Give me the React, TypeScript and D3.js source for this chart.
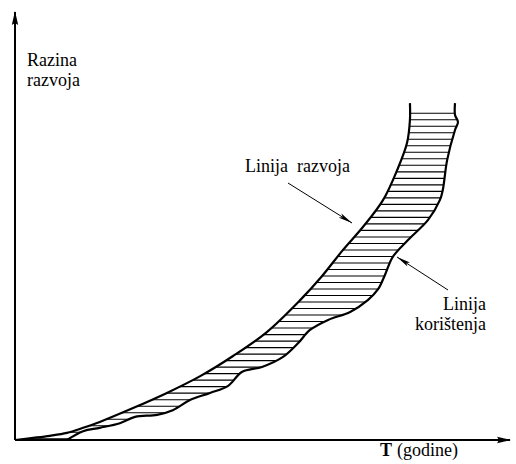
import React from "react";
import * as d3 from "d3";

// Upper boundary: "Linija razvoja" (development line) — [time, level]
const razvojX = [0, 3.7, 7.1, 10.6, 13.9, 17.3, 24.1, 31.0, 37.8, 44.5, 51.4, 58.2, 62.5, 66.9, 71.0, 75.1, 78.0, 80.0, 80.6, 80.6];
const razvojY = [0, 0.5, 1.0, 1.7, 2.9, 4.3, 7.6, 11.2, 15.2, 20.0, 25.7, 33.3, 38.8, 45.2, 50.7, 57.1, 64.3, 70.7, 76.2, 80.2];

// Lower boundary: "Linija korištenja" (utilisation line) — [time, level]
const koristX = [10.6, 13.9, 17.3, 21.4, 24.5, 29.0, 32.2, 35.7, 39.8, 43.5, 46.3, 50.4, 54.7, 57.8, 60.2, 63.9, 68.4, 72.0, 74.1, 75.5, 77.1, 80.2, 84.3, 86.7, 87.3, 88.2, 89.8, 90.4, 89.8, 89.8];
const koristY = [0, 2.1, 2.9, 4.0, 5.5, 6.0, 7.1, 9.5, 11.2, 12.9, 16.2, 17.4, 19.8, 23.1, 26.2, 28.6, 30.5, 33.3, 35.9, 39.3, 43.6, 47.6, 52.4, 57.1, 59.5, 66.7, 73.8, 75.7, 77.4, 80.2];

const yLabel = ["Razina", "razvoja"];
const xLabelBold = "T";
const xLabelRest = "(godine)";
const razvojLabel = "Linija  razvoja";
const koristLabel = ["Linija", "korištenja"];

const W = 516;
const H = 464;

export default function App() {
  const x = d3.scaleLinear().domain([0, 100]).range([15, 505]);
  const y = d3.scaleLinear().domain([0, 100]).range([440, 20]);

  const upper: [number, number][] = razvojX.map((v, i) => [x(v), y(razvojY[i])]);
  const lower: [number, number][] = koristX.map((v, i) => [x(v), y(koristY[i])]);

  const line = d3.line<[number, number]>().curve(d3.curveCatmullRom.alpha(0.5));
  const upperPath = line(upper) || "";
  const lowerPath = line(lower) || "";
  const lowerRevPath = line(lower.slice().reverse()) || "";
  const bandPath = upperPath + "L" + lowerRevPath.slice(1) + "Z";

  const topLevel = 77.8;
  const step = 1.55;
  const hatch = d3.range(topLevel, -0.5, -step);

  const axisStroke = 2;
  const font = "'Liberation Serif', 'Times New Roman', serif";
  const fs = 18;

  return (
    <svg width={W} height={H} style={{ position: "absolute", left: 0, top: 0, background: "#fff" }}>
      <defs>
        <clipPath id="band">
          <path d={bandPath} />
        </clipPath>
        <marker id="ah" viewBox="0 0 14 6" refX="14" refY="3" markerWidth="14" markerHeight="6" markerUnits="userSpaceOnUse" orient="auto">
          <path d="M0,0.6 L14,3 L0,5.4 L3,3 Z" fill="#000" />
        </marker>
        <marker id="axh" viewBox="0 0 14 8" refX="13" refY="4" markerWidth="14" markerHeight="8" markerUnits="userSpaceOnUse" orient="auto">
          <path d="M0,0.8 L14,4 L0,7.2 L2,4 Z" fill="#000" />
        </marker>
      </defs>

      {/* hatch band */}
      <g clipPath="url(#band)">
        {hatch.map((h, i) => (
          <line key={i} x1={x(0)} x2={x(100)} y1={y(h)} y2={y(h)} stroke="#000" strokeWidth={1.1} />
        ))}
      </g>

      {/* curves */}
      <path d={upperPath} fill="none" stroke="#000" strokeWidth={2.2} strokeLinejoin="round" />
      <path d={lowerPath} fill="none" stroke="#000" strokeWidth={2.2} strokeLinejoin="round" />

      {/* axes */}
      <line x1={x(0)} y1={y(0)} x2={x(0)} y2={y(100) - 8} stroke="#000" strokeWidth={axisStroke} markerEnd="url(#axh)" />
      <line x1={x(0)} y1={y(0)} x2={x(100) + 5} y2={y(0)} stroke="#000" strokeWidth={axisStroke} markerEnd="url(#axh)" />

      {/* axis labels */}
      <text x={27} y={66} fontFamily={font} fontSize={fs} fill="#000">{yLabel[0]}</text>
      <text x={27} y={86} fontFamily={font} fontSize={fs} fill="#000">{yLabel[1]}</text>
      <text x={380} y={456} fontFamily={font} fontSize={fs} fill="#000">
        <tspan fontWeight="bold">{xLabelBold}</tspan>
        <tspan dx={5}>{xLabelRest}</tspan>
      </text>

      {/* annotations */}
      <text x={245} y={172} fontFamily={font} fontSize={fs} fill="#000" style={{ whiteSpace: "pre" }}>{razvojLabel}</text>
      <line x1={288} y1={183} x2={352} y2={223} stroke="#000" strokeWidth={1} markerEnd="url(#ah)" />

      <text x={486} y={310} textAnchor="end" fontFamily={font} fontSize={fs} fill="#000">{koristLabel[0]}</text>
      <text x={486} y={330} textAnchor="end" fontFamily={font} fontSize={fs} fill="#000">{koristLabel[1]}</text>
      <line x1={448} y1={290} x2={397} y2={257} stroke="#000" strokeWidth={1} markerEnd="url(#ah)" />
    </svg>
  );
}
